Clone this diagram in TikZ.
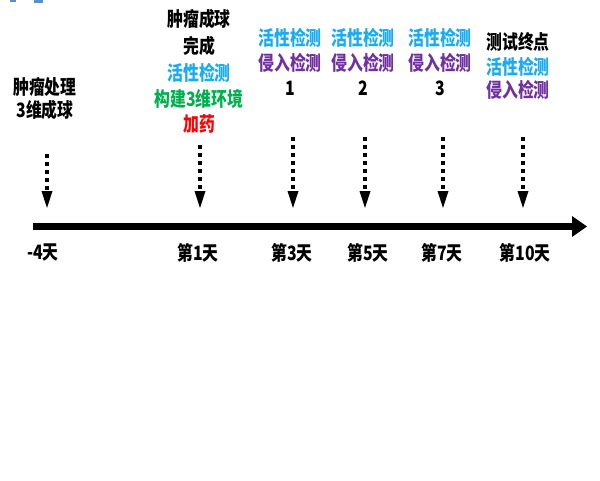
\documentclass[tikz,border=0pt]{standalone}
\usepackage{fontspec}
\setmainfont{Noto Sans CJK SC}
\newfontfamily\heavyfont{Noto Sans CJK SC Black}[FakeStretch=0.8]
\usetikzlibrary{arrows.meta}
\definecolor{vblue}{HTML}{1AABF0}
\definecolor{vpurple}{HTML}{7030A0}
\definecolor{vgreen}{HTML}{00B050}
\definecolor{vred}{HTML}{FF0000}
\definecolor{fragblue}{HTML}{5B8DD6}
\begin{document}
\begin{tikzpicture}[x=1pt,y=-1pt,
  lbl/.style={inner sep=0pt,font=\heavyfont\fontsize{19.8}{21}\selectfont},
  dasharrow/.style={line width=4pt,dash pattern=on 4pt off 4pt,
    -{Triangle[width=11pt,length=17pt,line width=0pt]}},
  axisarrow/.style={line width=7pt,-{Triangle[width=21pt,length=15pt,line width=0pt]}}]
\useasboundingbox (0,0) rectangle (600,480);
% cut-off fragments at top-left
\fill[fragblue] (10,0) rectangle (16,2);
\fill[fragblue] (34,0) rectangle (43,3);
% axis
\coordinate (axs) at (33,226.5);
\coordinate (axe) at (587,226.5);
\draw[axisarrow] (axs) -- (axe);
% column 1 (-4)
\node[lbl] (c1a) at (45,87) {肿瘤处理};
\node[lbl] (c1b) at (45,110) {3维成球};
\coordinate (t1) at (47,154);
\coordinate (b1) at (47,208);
\draw[dasharrow] (t1) -- (b1);
\node[lbl] (d1) at (43,253) {-4天};
% column 2 (day 1)
\node[lbl] (c2a) at (199,19) {肿瘤成球};
\node[lbl] (c2b) at (199,46) {完成};
\node[lbl,text=vblue] (c2c) at (199,73) {活性检测};
\node[lbl,text=vgreen] (c2d) at (199,99) {构建3维环境};
\node[lbl,text=vred] (c2e) at (199,124) {加药};
\coordinate (t2) at (200,145);
\coordinate (b2) at (200,208);
\draw[dasharrow] (t2) -- (b2);
\node[lbl] (d2) at (198,253) {第1天};
% column 3 (day 3)
\node[lbl,text=vblue] (c3a) at (290,38) {活性检测};
\node[lbl,text=vpurple] (c3b) at (290,63) {侵入检测};
\node[lbl] (c3c) at (290,88) {1};
\coordinate (t3) at (293,137);
\coordinate (b3) at (293,208);
\draw[dasharrow] (t3) -- (b3);
\node[lbl] (d3) at (292,253) {第3天};
% column 4 (day 5)
\node[lbl,text=vblue] (c4a) at (363,38) {活性检测};
\node[lbl,text=vpurple] (c4b) at (363,63) {侵入检测};
\node[lbl] (c4c) at (363,88) {2};
\coordinate (t4) at (365,137);
\coordinate (b4) at (365,208);
\draw[dasharrow] (t4) -- (b4);
\node[lbl] (d4) at (368,253) {第5天};
% column 5 (day 7)
\node[lbl,text=vblue] (c5a) at (440,38) {活性检测};
\node[lbl,text=vpurple] (c5b) at (440,63) {侵入检测};
\node[lbl] (c5c) at (440,88) {3};
\coordinate (t5) at (443,137);
\coordinate (b5) at (443,208);
\draw[dasharrow] (t5) -- (b5);
\node[lbl] (d5) at (442,253) {第7天};
% column 6 (day 10)
\node[lbl] (c6a) at (518,42) {测试终点};
\node[lbl,text=vblue] (c6b) at (518,67) {活性检测};
\node[lbl,text=vpurple] (c6c) at (518,90) {侵入检测};
\coordinate (t6) at (523,137);
\coordinate (b6) at (523,208);
\draw[dasharrow] (t6) -- (b6);
\node[lbl] (d6) at (525,253) {第10天};
\end{tikzpicture}
\end{document}
